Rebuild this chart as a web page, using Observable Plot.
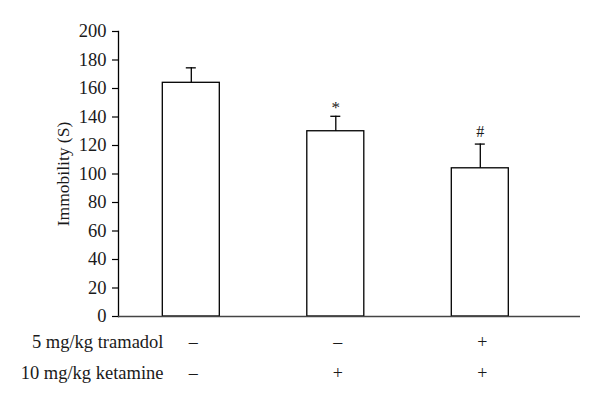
<!DOCTYPE html>
<html>
<head>
<meta charset="utf-8">
<script src="https://cdn.jsdelivr.net/npm/d3@7"></script>
<script src="https://cdn.jsdelivr.net/npm/@observablehq/plot@0.6"></script>
<style>
  html, body { margin: 0; padding: 0; background: #fff; }
  #chart svg, #chart svg text { font-family: "Liberation Serif", "Times New Roman", serif !important; }
</style>
</head>
<body>
<div id="chart"></div>
<script>
const groups = ["Control", "Ketamine", "Ketamine + Tramadol"];
const means = [164, 130, 104];
const errors = [10.5, 10.5, 17];
const tramadolRow = ["–", "–", "+"];
const ketamineRow = ["–", "+", "+"];
const significance = ["", "*", "#"];
const yTicks = [0, 20, 40, 60, 80, 100, 120, 140, 160, 180, 200];
const rowLabels = ["5 mg/kg tramadol", "10 mg/kg ketamine"];
const yLabel = "Immobility (S)";

const data = groups.map((g, i) => ({
  group: g,
  mean: means[i],
  top: means[i] + errors[i],
  tram: tramadolRow[i],
  ket: ketamineRow[i],
  sig: significance[i]
}));

const ink = "#1a1a1a";
const serif = "Liberation Serif";

const chart = Plot.plot({
  width: 600,
  height: 414,
  marginTop: 31,
  marginBottom: 98,
  marginLeft: 118,
  marginRight: 20,
  style: { fontFamily: serif, fontSize: "18px", color: ink, background: "#fff" },
  x: { domain: groups, range: [162.3, 508.3], paddingInner: 0.6055, paddingOuter: 0, round: false, axis: null },
  y: { domain: [0, 200], ticks: yTicks, axis: null },
  marks: [
    Plot.barY(data, { x: "group", y: "mean", fill: "#fff", stroke: "#000", strokeWidth: 1.3 }),
    Plot.ruleX(data, { x: "group", y1: "mean", y2: "top", stroke: "#000", strokeWidth: 1.3 }),
    Plot.tickY(data, { x: "group", y: "top", stroke: "#000", strokeWidth: 1.3, insetLeft: 23.5, insetRight: 23.5 }),
    Plot.text(data.filter(d => d.sig === "*"), { x: "group", y: "top", text: "sig", lineAnchor: "bottom", dy: -3, fontSize: 17, fontFamily: serif, fill: ink }),
    Plot.text(data.filter(d => d.sig === "#"), { x: "group", y: "top", text: "sig", lineAnchor: "bottom", dy: -7, fontSize: 16, fontFamily: serif, fill: ink }),
    Plot.axisY({ ticks: yTicks, tickSize: 6, tickPadding: 6, label: null, stroke: "#000", strokeWidth: 1.2, fill: ink, fontSize: 18.5, fontFamily: serif }),
    Plot.frame({ anchor: "left", stroke: "#000", strokeWidth: 1.3 }),
    Plot.ruleY([0], { stroke: "#444", strokeWidth: 1.6 }),
    Plot.text([yLabel], { frameAnchor: "left", dx: -55, rotate: -90, textAnchor: "middle", lineAnchor: "middle", fontSize: 17.5, fontFamily: serif, fill: ink }),
    Plot.text(data, { x: "group", text: "tram", frameAnchor: "bottom", lineAnchor: "bottom", dy: 31, dx: 2, fontSize: 18, fontFamily: serif, fill: ink }),
    Plot.text(data, { x: "group", text: "ket", frameAnchor: "bottom", lineAnchor: "bottom", dy: 62, dx: 2, fontSize: 18, fontFamily: serif, fill: ink }),
    Plot.text([rowLabels[0]], { frameAnchor: "bottom-left", dx: 45, dy: 31, textAnchor: "end", lineAnchor: "bottom", fontSize: 18.5, fontFamily: serif, fill: ink }),
    Plot.text([rowLabels[1]], { frameAnchor: "bottom-left", dx: 45, dy: 62, textAnchor: "end", lineAnchor: "bottom", fontSize: 18.5, fontFamily: serif, fill: ink })
  ]
});
document.getElementById("chart").appendChild(chart);
</script>
</body>
</html>
